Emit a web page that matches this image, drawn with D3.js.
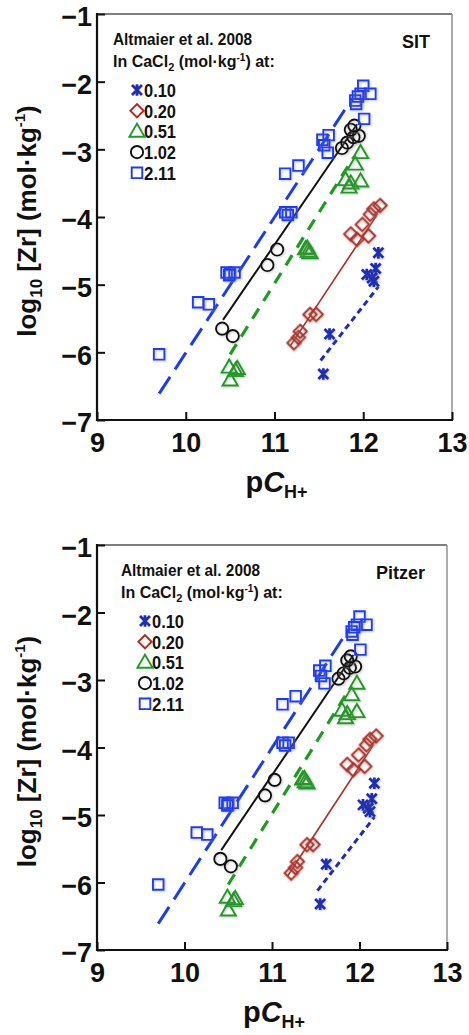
<!DOCTYPE html>
<html>
<head>
<meta charset="utf-8">
<script src="https://cdn.jsdelivr.net/npm/d3@7/dist/d3.min.js"></script>
<style>
  html, body { margin: 0; padding: 0; background: #fff; }
  svg { display: block; }
  text { font-family: "Liberation Sans", Arial, Helvetica, sans-serif; font-weight: bold; fill: #111; }
</style>
</head>
<body>
<svg id="chart" width="469" height="1035"></svg>
<script>
// Zr solubility in CaCl2 solutions: log10[Zr] vs pC(H+), Altmaier et al. 2008
const xTicks = [9, 10, 11, 12, 13];
const yTicks = [-1, -2, -3, -4, -5, -6, -7];
const concentrations = ["0.10", "0.20", "0.51", "1.02", "2.11"];
const models = ["SIT", "Pitzer"];

// measured points [pCH+, log10 Zr] per CaCl2 molality
const zr010 = [[11.55,-6.32],[11.62,-5.73],[12.17,-4.53],[12.14,-4.76],[12.04,-4.85],[12.10,-4.90],[12.12,-4.95]];
const zr020 = [[11.22,-5.86],[11.27,-5.78],[11.29,-5.69],[11.40,-5.44],[11.47,-5.44],[11.86,-4.25],[11.93,-4.33],
               [11.99,-4.11],[12.06,-4.28],[12.08,-3.96],[12.12,-3.88],[12.19,-3.83]];
const zr051 = [[10.49,-6.22],[10.56,-6.27],[10.50,-6.41],[10.58,-6.24],[11.35,-4.47],[11.38,-4.51],[11.40,-4.53],
               [11.37,-4.46],[11.80,-3.45],[11.86,-3.50],[11.84,-3.56],[11.97,-3.47],[11.91,-3.22],[11.97,-3.05]];
const zr102 = [[10.41,-5.65],[10.53,-5.76],[10.92,-4.71],[11.03,-4.48],[11.76,-2.98],[11.82,-2.90],[11.89,-2.82],
               [11.95,-2.80],[11.86,-2.71],[11.90,-2.65]];
const zr211 = [[9.70,-6.03],[10.14,-5.26],[10.26,-5.29],[10.46,-4.82],[10.50,-4.84],[10.55,-4.82],[10.49,-4.86],
               [11.12,-3.93],[11.19,-3.93],[11.15,-3.97],[11.12,-3.36],[11.27,-3.24],[11.54,-2.86],[11.61,-2.79],
               [11.56,-2.94],[11.60,-3.05],[12.01,-2.55],[11.91,-2.28],[11.92,-2.33],[11.97,-2.18],[12.00,-2.06],
               [12.08,-2.18],[11.94,-2.22]];

// model curves (end points)
const fit010 = [[11.52,-6.12],[12.17,-5.03]];
const fit020 = [[11.18,-5.90],[12.15,-3.98]];
const fit051 = [[10.50,-6.03],[11.89,-3.12]];
const fit102 = [[10.42,-5.52],[11.93,-2.63]];
const fit211 = [[9.70,-6.61],[11.82,-2.36]];

const series = [
  { points: zr010, fit: fit010, shape: "asterisk", color: "#1f2db3", dash: "6,4",   width: 3 },
  { points: zr020, fit: fit020, shape: "diamond",  color: "#b02a1e", dash: null,    width: 1.6 },
  { points: zr051, fit: fit051, shape: "triangle", color: "#1f9a22", dash: "12,9",  width: 3.2 },
  { points: zr102, fit: fit102, shape: "circle",   color: "#111111", dash: null,    width: 2 },
  { points: zr211, fit: fit211, shape: "square",   color: "#1c3cf0", dash: "20,9",  width: 3 }
];

const panels = [
  { model: models[0], left: 97, right: 452, top: 14,  bottom: 420, legendX: 113 },
  { model: models[1], left: 97, right: 447, top: 545, bottom: 950, legendX: 121 }
];

const svg = d3.select("#chart");
svg.append("rect").attr("width", 469).attr("height", 1035).attr("fill", "#fff");

const defs = svg.append("defs");
const shadow = defs.append("filter").attr("id", "soft").attr("x", "-50%").attr("y", "-50%")
  .attr("width", "200%").attr("height", "200%");
shadow.append("feDropShadow").attr("dx", 1).attr("dy", 1).attr("stdDeviation", 0.9)
  .attr("flood-color", "#888").attr("flood-opacity", 0.45);

function markerPath(shape) {
  switch (shape) {
    case "square":   return d3.symbol(d3.symbolSquare, 112)();
    case "circle":   return d3.symbol(d3.symbolCircle, 118)();
    case "triangle": return d3.symbol(d3.symbolTriangle, 100)();
    case "diamond":  return d3.symbol(d3.symbolSquare, 88)();
    case "asterisk": {
      const s = 5;
      return `M${-s},${-s}L${s},${s}M${-s},${s}L${s},${-s}M0,${-s - 0.8}L0,${s + 0.8}`;
    }
  }
}

function drawMarker(g, shape, color, x, y) {
  const p = g.append("path")
    .attr("d", markerPath(shape))
    .attr("fill", "none")
    .attr("stroke", color)
    .attr("stroke-width", shape === "asterisk" ? 2.8 : 1.9)
    .attr("filter", "url(#soft)");
  if (shape === "diamond") p.attr("transform", `translate(${x},${y}) rotate(45)`);
  else if (shape === "triangle") p.attr("transform", `translate(${x},${y + 1})`);
  else p.attr("transform", `translate(${x},${y})`);
  return p;
}

panels.forEach(cfg => {
  const x = d3.scaleLinear().domain([9, 13]).range([cfg.left, cfg.right]);
  const y = d3.scaleLinear().domain([-7, -1]).range([cfg.bottom, cfg.top]);
  const g = svg.append("g");

  // frame: light top/right, bold left/bottom
  g.append("line").attr("x1", cfg.left).attr("x2", cfg.right).attr("y1", cfg.top).attr("y2", cfg.top)
    .attr("stroke", "#555").attr("stroke-width", 1.4);
  g.append("line").attr("x1", cfg.right).attr("x2", cfg.right).attr("y1", cfg.top).attr("y2", cfg.bottom)
    .attr("stroke", "#8a8a8a").attr("stroke-width", 1.4);

  const yAxis = g.append("g").attr("transform", `translate(${cfg.left},0)`)
    .call(d3.axisLeft(y).tickValues(yTicks).tickFormat(d3.format("d")).tickSize(-8).tickPadding(5));
  const xAxis = g.append("g").attr("transform", `translate(0,${cfg.bottom})`)
    .call(d3.axisBottom(x).tickValues(xTicks).tickFormat(d3.format("d")).tickSize(-8).tickPadding(13));
  [xAxis, yAxis].forEach(a => {
    a.select(".domain").remove();
    a.selectAll(".tick line").attr("stroke", "#111").attr("stroke-width", 2);
    a.selectAll(".tick text").attr("font-size", 27).attr("font-family", null).attr("fill", "#111");
  });
  yAxis.selectAll(".tick text").attr("dy", "0.44em");

  g.append("line").attr("x1", cfg.left).attr("x2", cfg.left).attr("y1", cfg.top - 1).attr("y2", cfg.bottom + 1)
    .attr("stroke", "#111").attr("stroke-width", 2.2);
  g.append("line").attr("x1", cfg.left - 1).attr("x2", cfg.right + 1).attr("y1", cfg.bottom).attr("y2", cfg.bottom)
    .attr("stroke", "#111").attr("stroke-width", 2.2);

  // axis titles
  const midX = (cfg.left + cfg.right) / 2;
  const xt = g.append("text").attr("x", midX + 2).attr("y", cfg.bottom + 72)
    .attr("text-anchor", "middle").attr("font-size", 29).attr("font-weight", "normal");
  xt.append("tspan").text("p");
  xt.append("tspan").attr("font-style", "italic").text("C");
  xt.append("tspan").attr("font-size", 18).attr("font-weight", "bold").attr("dy", 6).text("H+");

  const midY = (cfg.top + cfg.bottom) / 2 + 4;
  const yt = g.append("text").attr("transform", `translate(36,${midY}) rotate(-90)`)
    .attr("text-anchor", "middle").attr("font-size", 26);
  yt.append("tspan").text("log");
  yt.append("tspan").attr("font-size", 17).attr("dy", 6).text("10");
  yt.append("tspan").attr("dy", -6).text(" [Zr] (mol·kg");
  yt.append("tspan").attr("font-size", 15).attr("dy", -11).text("-1");
  yt.append("tspan").attr("dy", 11).text(")");

  // model label
  g.append("text").attr("x", cfg.right - 22).attr("y", cfg.top + 34).attr("text-anchor", "end")
    .attr("font-size", 18).text(cfg.model);

  // legend
  const lx = cfg.legendX, ly = cfg.top;
  g.append("text").attr("x", lx).attr("y", ly + 31).attr("font-size", 16)
    .attr("textLength", 139).attr("lengthAdjust", "spacingAndGlyphs").text("Altmaier et al. 2008");
  const l2 = g.append("text").attr("x", lx).attr("y", ly + 53).attr("font-size", 16);
  l2.append("tspan").text("In CaCl");
  l2.append("tspan").attr("font-size", 11).attr("dy", 4).text("2");
  l2.append("tspan").attr("dy", -4).text(" (mol·kg");
  l2.append("tspan").attr("font-size", 10).attr("dy", -6).text("-1");
  l2.append("tspan").attr("dy", 6).text(") at:");

  series.forEach((s, i) => {
    const cy = ly + 76 + i * 20.7;
    drawMarker(g, s.shape, s.color, lx + 24, cy).attr("filter", null);
    g.append("text").attr("x", lx + 31).attr("y", cy + 7).attr("font-size", 18)
      .attr("textLength", 32).attr("lengthAdjust", "spacingAndGlyphs").text(concentrations[i]);
  });

  // model lines
  const line = d3.line().x(d => x(d[0])).y(d => y(d[1]));
  series.forEach(s => {
    g.append("path").datum(s.fit).attr("d", line)
      .attr("fill", "none").attr("stroke", s.color).attr("stroke-width", s.width)
      .attr("stroke-dasharray", s.dash);
  });

  // data points
  series.forEach(s => {
    s.points.forEach(p => drawMarker(g, s.shape, s.color, x(p[0]), y(p[1])));
  });
});
</script>
</body>
</html>
